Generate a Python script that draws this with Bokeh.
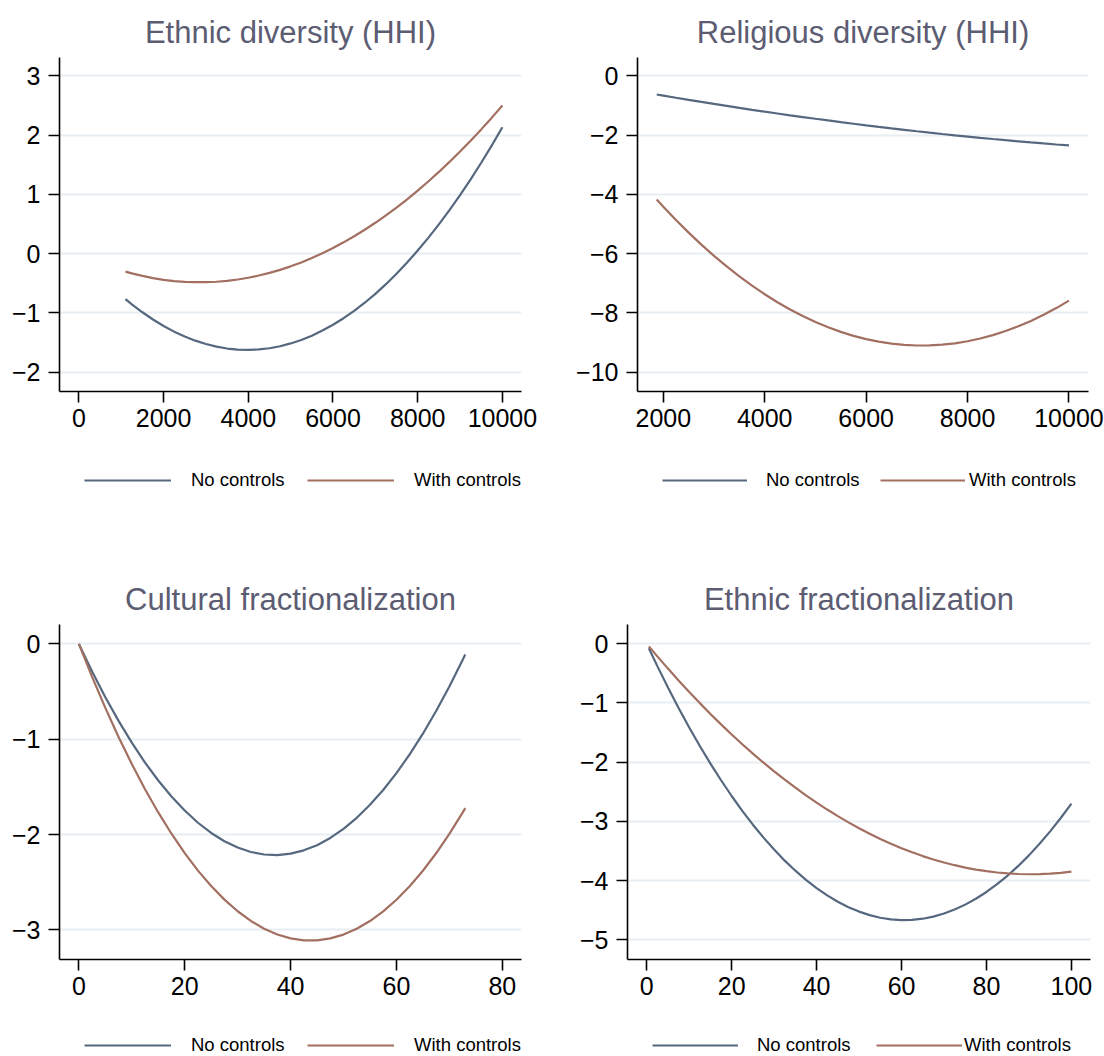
from bokeh.plotting import figure
from bokeh.layouts import column, row
from bokeh.models import (FixedTicker, CustomJSTickFormatter, Legend, LegendItem,
                          Range1d, ColumnDataSource)
from bokeh.embed import file_html
from bokeh.resources import INLINE

FONT = "Liberation Sans"
BLUE = "#56687f"
BROWN = "#a26f61"
TITLE_COLOR = "#5c5c72"
GRID = "#e8eef2"

LEGEND_LABELS = ["No controls", "With controls"]

# ---- Panel 1: Ethnic diversity (HHI)
p1_title = "Ethnic diversity (HHI)"
p1_x = [1100, 1250, 1500, 1750, 2000, 2250, 2500, 2750, 3000, 3250, 3500, 3750,
        4000, 4250, 4500, 4750, 5000, 5250, 5500, 5750, 6000, 6250, 6500, 6750,
        7000, 7250, 7500, 7750, 8000, 8250, 8500, 8750, 9000, 9250, 9500, 9750, 10000]
p1_no = [-0.769, -0.856, -0.990, -1.112, -1.221, -1.317, -1.400, -1.469, -1.526,
         -1.570, -1.602, -1.620, -1.625, -1.617, -1.597, -1.563, -1.516, -1.457,
         -1.385, -1.299, -1.201, -1.090, -0.966, -0.829, -0.679, -0.516, -0.340,
         -0.151, 0.051, 0.266, 0.493, 0.734, 0.987, 1.254, 1.533, 1.826, 2.131]
p1_with = [-0.305, -0.334, -0.377, -0.413, -0.442, -0.463, -0.477, -0.483, -0.483,
           -0.475, -0.460, -0.437, -0.407, -0.370, -0.326, -0.274, -0.215, -0.149,
           -0.075, 0.006, 0.094, 0.190, 0.293, 0.403, 0.520, 0.645, 0.777, 0.916,
           1.063, 1.217, 1.378, 1.547, 1.723, 1.906, 2.096, 2.294, 2.499]
p1_xticks = [0, 2000, 4000, 6000, 8000, 10000]
p1_yticks = [-2, -1, 0, 1, 2, 3]

# ---- Panel 2: Religious diversity (HHI)
p2_title = "Religious diversity (HHI)"
p2_x = [1870, 2000, 2250, 2500, 2750, 3000, 3250, 3500, 3750, 4000, 4250, 4500,
        4750, 5000, 5250, 5500, 5750, 6000, 6250, 6500, 6750, 7000, 7250, 7500,
        7750, 8000, 8250, 8500, 8750, 9000, 9250, 9500, 9750, 10000]
p2_no = [-0.632, -0.670, -0.742, -0.813, -0.882, -0.950, -1.017, -1.083, -1.147,
         -1.210, -1.272, -1.333, -1.392, -1.450, -1.507, -1.563, -1.617, -1.670,
         -1.722, -1.773, -1.822, -1.870, -1.917, -1.963, -2.007, -2.050, -2.092,
         -2.133, -2.172, -2.210, -2.247, -2.283, -2.317, -2.350]
p2_with = [-4.177, -4.418, -4.866, -5.291, -5.694, -6.074, -6.432, -6.767, -7.080,
           -7.370, -7.638, -7.883, -8.106, -8.306, -8.484, -8.639, -8.772, -8.882,
           -8.970, -9.035, -9.078, -9.098, -9.096, -9.071, -9.024, -8.954, -8.862,
           -8.747, -8.610, -8.450, -8.268, -8.063, -7.836, -7.586]
p2_xticks = [2000, 4000, 6000, 8000, 10000]
p2_yticks = [-10, -8, -6, -4, -2, 0]

# ---- Panel 3: Cultural fractionalization
p3_title = "Cultural fractionalization"
p3_x = [0, 2.5, 5, 7.5, 10, 12.5, 15, 17.5, 20, 22.5, 25, 27.5, 30, 32.5, 35, 37.5,
        40, 42.5, 45, 47.5, 50, 52.5, 55, 57.5, 60, 62.5, 65, 67.5, 70, 72.5, 73]
p3_no = [0.000, -0.289, -0.559, -0.808, -1.036, -1.245, -1.433, -1.601, -1.748,
         -1.876, -1.983, -2.070, -2.136, -2.183, -2.209, -2.215, -2.200, -2.165,
         -2.111, -2.035, -1.940, -1.824, -1.688, -1.532, -1.355, -1.159, -0.942,
         -0.704, -0.447, -0.169, -0.111]
p3_with = [0.000, -0.346, -0.671, -0.976, -1.260, -1.524, -1.768, -1.991, -2.195,
           -2.378, -2.540, -2.682, -2.804, -2.906, -2.987, -3.048, -3.089, -3.109,
           -3.110, -3.089, -3.049, -2.988, -2.907, -2.805, -2.683, -2.541, -2.379,
           -2.196, -1.993, -1.770, -1.723]
p3_xticks = [0, 20, 40, 60, 80]
p3_yticks = [-3, -2, -1, 0]

# ---- Panel 4: Ethnic fractionalization
p4_title = "Ethnic fractionalization"
p4_x = [0.5, 2.5, 5, 7.5, 10, 12.5, 15, 17.5, 20, 22.5, 25, 27.5, 30, 32.5, 35,
        37.5, 40, 42.5, 45, 47.5, 50, 52.5, 55, 57.5, 60, 62.5, 65, 67.5, 70, 72.5,
        75, 77.5, 80, 82.5, 85, 87.5, 90, 92.5, 95, 97.5, 100]
p4_no = [-0.076, -0.377, -0.738, -1.083, -1.413, -1.726, -2.024, -2.305, -2.571,
         -2.821, -3.056, -3.274, -3.476, -3.663, -3.833, -3.988, -4.127, -4.250,
         -4.358, -4.449, -4.524, -4.584, -4.628, -4.656, -4.668, -4.664, -4.644,
         -4.608, -4.557, -4.489, -4.406, -4.307, -4.192, -4.061, -3.915, -3.752,
         -3.574, -3.379, -3.169, -2.943, -2.701]
p4_with = [-0.043, -0.212, -0.419, -0.619, -0.814, -1.002, -1.185, -1.361, -1.532,
           -1.697, -1.855, -2.008, -2.155, -2.296, -2.431, -2.560, -2.683, -2.800,
           -2.911, -3.016, -3.115, -3.209, -3.296, -3.377, -3.453, -3.522, -3.586,
           -3.643, -3.695, -3.740, -3.780, -3.814, -3.841, -3.863, -3.879, -3.889,
           -3.893, -3.891, -3.883, -3.869, -3.849]
p4_xticks = [0, 20, 40, 60, 80, 100]
p4_yticks = [-5, -4, -3, -2, -1, 0]

FMT_CODE = "return tick < 0 ? '\\u2212' + String(Math.abs(tick)) : String(tick);"


def make_panel(title, xs, y_no, y_with, xticks, yticks, xr, yr, width, height,
               borders, title_offset=0):
    left, right, top, bottom = borders
    p = figure(width=width, height=height, x_range=Range1d(*xr), y_range=Range1d(*yr),
               output_backend="svg", toolbar_location=None,
               min_border_left=left, min_border_right=right,
               min_border_top=top, min_border_bottom=bottom,
               background_fill_color="white", border_fill_color="white")
    p.outline_line_color = None
    p.title.text = title
    p.title.align = "center"
    p.title.text_font = FONT
    p.title.text_font_size = "31px"
    p.title.text_font_style = "normal"
    p.title.text_color = TITLE_COLOR
    p.title.offset = title_offset
    p.title.standoff = 16

    p.xgrid.visible = False
    p.ygrid.grid_line_color = GRID
    p.ygrid.grid_line_width = 2

    for ax in (p.xaxis[0], p.yaxis[0]):
        ax.axis_line_color = "black"
        ax.axis_line_width = 1.6
        ax.major_tick_line_color = "black"
        ax.major_tick_line_width = 1.6
        ax.major_tick_in = 0
        ax.major_tick_out = 11
        ax.minor_tick_line_color = None
        ax.major_label_text_font = FONT
        ax.major_label_text_font_size = "25px"
        ax.major_label_text_color = "black"
        ax.formatter = CustomJSTickFormatter(code=FMT_CODE)
    p.xaxis[0].ticker = FixedTicker(ticks=xticks)
    p.yaxis[0].ticker = FixedTicker(ticks=yticks)
    p.xaxis[0].major_label_standoff = 6
    p.yaxis[0].major_label_standoff = 8

    p.line("x", "y", source=ColumnDataSource(dict(x=xs, y=y_no)),
           line_color=BLUE, line_width=2.2)
    p.line("x", "y", source=ColumnDataSource(dict(x=xs, y=y_with)),
           line_color=BROWN, line_width=2.2)
    return p


NAN = float("nan")


def make_legend_strip(width, height, items):
    """Key strip under a panel: each key is (x offset, y offset, glyph width, standoff)."""
    f = figure(width=width, height=height, x_range=Range1d(0, 1), y_range=Range1d(0, 1),
               x_axis_type=None, y_axis_type=None, output_backend="svg",
               toolbar_location=None, min_border_left=0, min_border_right=0,
               min_border_top=0, min_border_bottom=0,
               background_fill_color="white", border_fill_color="white")
    f.outline_line_color = None
    f.grid.visible = False
    # key-only renderers (no drawable data; they only supply the legend key style)
    keys = [f.line(x=[NAN, NAN], y=[NAN, NAN], line_color=BLUE, line_width=2.2),
            f.line(x=[NAN, NAN], y=[NAN, NAN], line_color=BROWN, line_width=2.2)]
    for r, label, (vx, vy, gw, st) in zip(keys, LEGEND_LABELS, items):
        lg = Legend(items=[LegendItem(label=label, renderers=[r])],
                    location=(vx, vy), orientation="horizontal",
                    glyph_width=gw, glyph_height=22, label_height=22,
                    label_standoff=st, padding=0, margin=0, spacing=0,
                    border_line_color=None, background_fill_alpha=0,
                    label_text_font=FONT, label_text_font_size="18.5px",
                    label_text_color="black")
        f.add_layout(lg)
    return f


p1 = make_panel(p1_title, p1_x, p1_no, p1_with, p1_xticks, p1_yticks,
                (-458, 10451), (-2.327, 3.309), 550, 450, (59, 29, 57, 59),
                title_offset=1)
p2 = make_panel(p2_title, p2_x, p2_no, p2_with, p2_xticks, p2_yticks,
                (1491, 10385), (-10.65, 0.617), 554, 450, (87, 16, 57, 59),
                title_offset=1)
p3 = make_panel(p3_title, p3_x, p3_no, p3_with, p3_xticks, p3_yticks,
                (-3.66, 83.63), (-3.31, 0.203), 550, 466, (59, 29, 72, 59))
p4 = make_panel(p4_title, p4_x, p4_no, p4_with, p4_xticks, p4_yticks,
                (-4.53, 104.5), (-5.333, 0.326), 554, 466, (77, 14, 72, 59))

l1 = make_legend_strip(550, 102, [(84, 61, 87, 20), (307, 61, 87, 20)])
l2 = make_legend_strip(554, 102, [(112, 61, 85, 19), (330, 61, 85, 4)])
l3 = make_legend_strip(550, 38, [(84, 0, 87, 20), (307, 0, 87, 20)])
l4 = make_legend_strip(554, 38, [(102, 0, 86, 19), (326, 0, 86, 2)])

layout = column(row(p1, p2), row(l1, l2), row(p3, p4), row(l3, l4))
open("out.html", "w").write(file_html(layout, INLINE))
